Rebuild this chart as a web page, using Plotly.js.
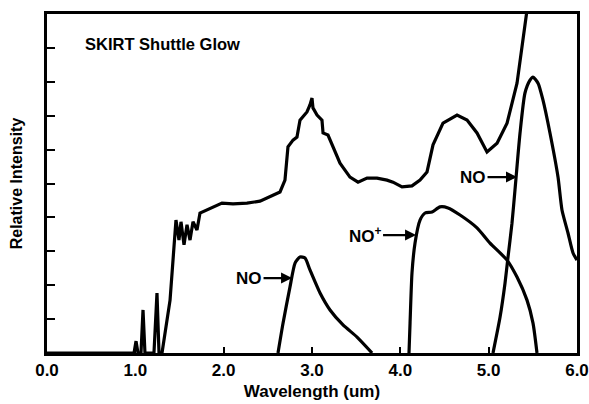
<!DOCTYPE html>
<html>
<head>
<meta charset="utf-8">
<script src="https://cdn.plot.ly/plotly-3.0.1.min.js"></script>
<style>html,body{margin:0;padding:0;background:#fff;}#chart{width:589px;height:404px;}</style>
</head>
<body>
<div id="chart"></div>
<script>
// Shuttle glow spectrum (relative intensity)
var glowX = [0.0, 0.83, 0.985, 1.008, 1.03, 1.064, 1.087, 1.109, 1.211, 1.245, 1.268, 1.302, 1.393, 1.46, 1.494, 1.517, 1.551, 1.585, 1.619, 1.653, 1.698, 1.732, 1.812, 1.902, 1.981, 2.106, 2.264, 2.411, 2.49, 2.559, 2.638, 2.694, 2.728, 2.785, 2.83, 2.864, 2.943, 2.977, 3.0, 3.011, 3.057, 3.113, 3.125, 3.181, 3.226, 3.317, 3.43, 3.521, 3.623, 3.736, 3.849, 3.917, 4.019, 4.132, 4.223, 4.302, 4.37, 4.483, 4.642, 4.755, 4.868, 4.981, 5.095, 5.208, 5.321, 5.389, 5.434, 5.47];
var glowY = [0.0, 0.0, 0.0, 0.35, 0.0, 0.0, 1.27, 0.0, 0.0, 1.77, 0.0, 0.0, 1.56, 3.92, 3.33, 3.87, 3.19, 3.78, 3.33, 3.87, 3.63, 4.13, 4.22, 4.31, 4.42, 4.40, 4.42, 4.48, 4.57, 4.66, 4.75, 5.10, 6.08, 6.28, 6.37, 6.87, 7.11, 7.32, 7.52, 7.23, 7.02, 6.87, 6.49, 6.43, 6.14, 5.60, 5.19, 5.04, 5.16, 5.16, 5.10, 5.04, 4.90, 4.93, 5.10, 5.34, 6.14, 6.78, 7.02, 6.87, 6.49, 5.93, 6.19, 6.78, 7.96, 9.14, 10.03, 10.8];
// NO band (2.7 um)
var noX = [2.615, 2.672, 2.751, 2.808, 2.864, 2.921, 2.977, 3.091, 3.204, 3.351, 3.51, 3.68];
var noY = [0.0, 0.88, 1.95, 2.65, 2.83, 2.80, 2.45, 1.77, 1.27, 0.83, 0.47, 0.0];
// NO+ band (4.3 um)
var noPlusX = [4.098, 4.11, 4.132, 4.166, 4.223, 4.28, 4.359, 4.449, 4.54, 4.676, 4.868, 5.015, 5.208, 5.321, 5.434, 5.502, 5.547];
var noPlusY = [0.0, 0.88, 2.36, 3.24, 3.92, 4.13, 4.16, 4.31, 4.28, 4.07, 3.69, 3.24, 2.74, 2.24, 1.56, 0.88, 0.0];
// NO band (5.3 um)
var no2X = [5.049, 5.129, 5.185, 5.219, 5.264, 5.298, 5.355, 5.411, 5.468, 5.502, 5.559, 5.615, 5.694, 5.785, 5.83, 5.898, 5.955, 6.0];
var no2Y = [0.0, 1.06, 2.06, 2.83, 3.83, 4.81, 6.49, 7.67, 8.05, 8.14, 7.96, 7.46, 6.49, 5.19, 4.22, 3.54, 2.95, 2.74];

var xTickVals = [0, 1, 2, 3, 4, 5, 6];
var xTickText = ["0.0", "1.0", "2.0", "3.0", "4.0", "5.0", "6.0"];
var yTickVals = [0, 1, 2, 3, 4, 5, 6, 7, 8, 9, 10];

var lineStyle = {color: '#000', width: 3.2, shape: 'linear'};
var bandStyle = {color: '#000', width: 3.2, shape: 'spline', smoothing: 0.6};
var traces = [
  {x: glowX, y: glowY, mode: 'lines', line: lineStyle, hoverinfo: 'skip'},
  {x: noX, y: noY, mode: 'lines', line: bandStyle, hoverinfo: 'skip'},
  {x: noPlusX, y: noPlusY, mode: 'lines', line: bandStyle, hoverinfo: 'skip'},
  {x: no2X, y: no2Y, mode: 'lines', line: bandStyle, hoverinfo: 'skip'}
];

var fontFam = 'Liberation Sans, Arial, sans-serif';
var layout = {
  width: 589, height: 404,
  margin: {l: 47, r: 12, t: 14, b: 51},
  paper_bgcolor: '#fff', plot_bgcolor: '#fff',
  showlegend: false,
  font: {family: fontFam, color: '#000'},
  xaxis: {
    range: [0, 6], tickvals: xTickVals, ticktext: xTickText,
    ticks: 'inside', ticklen: 6, tickwidth: 2, tickcolor: '#000',
    showline: true, linewidth: 3, linecolor: '#000', mirror: true,
    showgrid: false, zeroline: false,
    tickfont: {family: fontFam, size: 17, weight: 'bold', color: '#000'},
    title: {text: 'Wavelength (um)', font: {family: fontFam, size: 17, weight: 'bold', color: '#000'}, standoff: 6}
  },
  yaxis: {
    range: [0, 10], tickvals: yTickVals, showticklabels: false,
    ticks: 'inside', ticklen: 8, tickwidth: 2, tickcolor: '#000',
    showline: true, linewidth: 3, linecolor: '#000', mirror: true,
    showgrid: false, zeroline: false,
    title: {text: 'Relative Intensity', font: {family: fontFam, size: 16, weight: 'bold', color: '#000'}, standoff: 18}
  },
  annotations: [
    {x: 1.313, y: 9.11, xref: 'x', yref: 'y', text: '<b>SKIRT Shuttle Glow</b>', showarrow: false,
     font: {family: fontFam, size: 16.5, color: '#000'}, xanchor: 'center', yanchor: 'middle'},
    {x: 2.774, y: 2.21, xref: 'x', yref: 'y', text: '<b>NO</b>', showarrow: true, ax: -43, ay: 0,
     arrowhead: 2, arrowsize: 1, arrowwidth: 2.2, arrowcolor: '#000', font: {family: fontFam, size: 17, color: '#000'}},
    {x: 4.178, y: 3.48, xref: 'x', yref: 'y', text: '<b>NO<sup>+</sup></b>', showarrow: true, ax: -51, ay: 0,
     arrowhead: 2, arrowsize: 1, arrowwidth: 2.2, arrowcolor: '#000', font: {family: fontFam, size: 17, color: '#000'}},
    {x: 5.321, y: 5.19, xref: 'x', yref: 'y', text: '<b>NO</b>', showarrow: true, ax: -44, ay: 0,
     arrowhead: 2, arrowsize: 1, arrowwidth: 2.2, arrowcolor: '#000', font: {family: fontFam, size: 17, color: '#000'}}
  ]
};

Plotly.newPlot('chart', traces, layout, {staticPlot: true, displayModeBar: false});
</script>
</body>
</html>
